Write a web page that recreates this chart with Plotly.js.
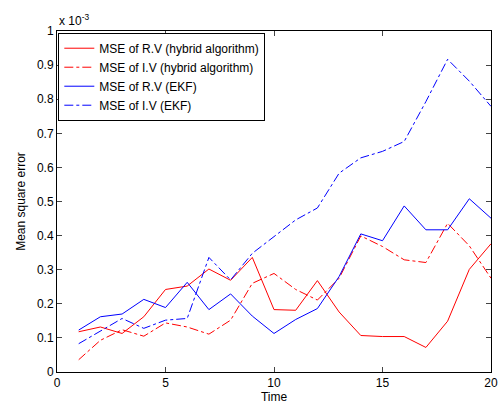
<!DOCTYPE html>
<html>
<head>
<meta charset="utf-8">
<script src="https://cdn.plot.ly/plotly-3.0.1.min.js"></script>
<style>html,body{margin:0;padding:0;background:#fff;}#chart{width:500px;height:407px;}</style>
</head>
<body>
<div id="chart"></div>
<script>
var time = [1,2,3,4,5,6,7,8,9,10,11,12,13,14,15,16,17,18,19,20];
var rvHybrid = [0.118,0.132,0.113,0.162,0.242,0.252,0.302,0.269,0.336,0.183,0.181,0.268,0.176,0.107,0.104,0.104,0.072,0.149,0.301,0.376];
var ivHybrid = [0.036,0.093,0.124,0.105,0.144,0.132,0.111,0.152,0.26,0.289,0.242,0.211,0.275,0.399,0.368,0.329,0.321,0.436,0.37,0.275];
var rvEKF = [0.123,0.162,0.17,0.213,0.189,0.263,0.183,0.229,0.164,0.113,0.154,0.186,0.28,0.405,0.385,0.487,0.417,0.417,0.508,0.451];
var ivEKF = [0.083,0.12,0.157,0.128,0.152,0.157,0.336,0.27,0.348,0.397,0.446,0.481,0.583,0.628,0.647,0.676,0.793,0.917,0.853,0.779];
var seriesNames = ["MSE of R.V (hybrid algorithm)","MSE of I.V (hybrid algorithm)","MSE of R.V (EKF)","MSE of I.V (EKF)"];
var xTicks = [0,5,10,15,20];
var yTicks = [0,0.1,0.2,0.3,0.4,0.5,0.6,0.7,0.8,0.9,1];
var yTickText = ["0","0.1","0.2","0.3","0.4","0.5","0.6","0.7","0.8","0.9","1"];

var font = {family: "Liberation Sans, Arial, sans-serif", size: 12, color: "#000"};
function tr(y, name, color, dash) {
  return {x: time, y: y, name: name, type: "scatter", mode: "lines",
          line: {color: color, width: 1, dash: dash}};
}
var data = [
  tr(rvHybrid, seriesNames[0], "#ff0000", "solid"),
  tr(ivHybrid, seriesNames[1], "#ff0000", "dashdot"),
  tr(rvEKF, seriesNames[2], "#0000ff", "solid"),
  tr(ivEKF, seriesNames[3], "#0000ff", "dashdot")
];
var layout = {
  width: 500, height: 407,
  margin: {l: 57, r: 9, t: 31, b: 35},
  paper_bgcolor: "#fff", plot_bgcolor: "#fff",
  font: font,
  showlegend: true,
  legend: {x: 0.003, y: 0.995, xanchor: "left", yanchor: "top",
           bordercolor: "#000", borderwidth: 1, bgcolor: "#fff",
           font: font, tracegroupgap: 0},
  xaxis: {range: [0, 20], tickvals: xTicks, ticks: "inside", ticklen: 5,
          showline: true, linecolor: "#000", linewidth: 1, mirror: "ticks",
          showgrid: false, zeroline: false, tickfont: font,
          title: {text: "Time", font: font, standoff: 2}},
  yaxis: {range: [0, 1], tickvals: yTicks, ticktext: yTickText, ticks: "inside", ticklen: 5,
          showline: true, linecolor: "#000", linewidth: 1, mirror: "ticks",
          showgrid: false, zeroline: false, tickfont: font,
          title: {text: "Mean square error", font: font, standoff: 8}},
  annotations: [{xref: "paper", yref: "paper", x: 0, y: 1, xanchor: "left", yanchor: "bottom",
                 yshift: 1, text: "x 10<sup>-3</sup>", showarrow: false, font: font}]
};
Plotly.newPlot("chart", data, layout, {displayModeBar: false, staticPlot: true});
</script>
</body>
</html>
